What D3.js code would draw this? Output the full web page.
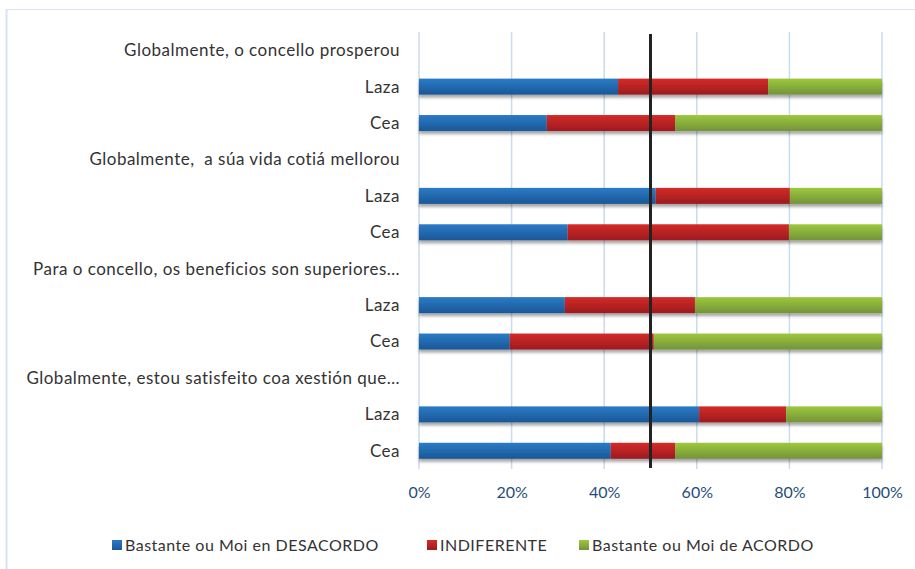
<!DOCTYPE html>
<html lang="gl">
<head>
  <meta charset="UTF-8">
  <title>Valoración por concello</title>
  <style>
    body {
      margin: 0;
      padding: 0;
      background: #ffffff;
      font-family: 'Lato', 'Liberation Sans', sans-serif;
    }
    svg { display: block; }
    .cat { white-space: pre; letter-spacing: 0.5px; }
    .leg { letter-spacing: 0.5px; }
  </style>
</head>
<body>
<svg width="915" height="569"></svg>

<script src="https://d3js.org/d3.v7.min.js"></script>
<script>
  const width = 915, height = 569;

  // data (percent of answers)
  const questions = [
    "Globalmente, o concello prosperou",
    "Globalmente,  a súa vida cotiá mellorou",
    "Para o concello, os beneficios son superiores…",
    "Globalmente, estou satisfeito coa xestión que…"
  ];
  const places = ["Laza", "Cea"];
  const desacordo   = [43.0, 27.6, 51.1, 32.1, 31.5, 19.6, 60.5, 41.4];
  const indiferente = [32.4, 27.7, 29.0, 47.8, 28.1, 31.1, 18.8, 13.9];
  const acordo      = [24.6, 44.7, 19.9, 20.1, 40.4, 49.3, 20.7, 44.7];
  const seriesNames = ["Bastante ou Moi en DESACORDO", "INDIFERENTE", "Bastante ou Moi de ACORDO"];
  const xTicks = [0, 20, 40, 60, 80, 100];
  const refLine = 50;

  // build rows: a header row per question, then one row per place
  const rows = [];
  const bars = [];
  let k = 0;
  questions.forEach((q, qi) => {
    rows.push({ id: "q" + qi, label: q, header: true });
    places.forEach(p => {
      const id = "q" + qi + "-" + p;
      rows.push({ id, label: p, header: false });
      bars.push({ id, d: desacordo[k], i: indiferente[k], a: acordo[k] });
      k++;
    });
  });

  const colors = [
    ["#2b7bc6", "#1a5797"],
    ["#d42b27", "#9b1b1f"],
    ["#9dc83c", "#73933a"]
  ];

  const svg = d3.select("svg");

  const defs = svg.append("defs");
  colors.forEach((c, i) => {
    const g = defs.append("linearGradient")
      .attr("id", "grad" + i)
      .attr("x1", 0).attr("y1", 0).attr("x2", 0).attr("y2", 1);
    g.append("stop").attr("offset", "0%").attr("stop-color", c[0]);
    g.append("stop").attr("offset", "100%").attr("stop-color", c[1]);
  });
  defs.append("filter").attr("id", "shadow")
    .attr("x", "-5%").attr("y", "-50%").attr("width", "110%").attr("height", "250%")
    .append("feDropShadow")
    .attr("dx", 0).attr("dy", 3).attr("stdDeviation", 1.8)
    .attr("flood-color", "#000").attr("flood-opacity", 0.35);

  // outer frame (only top and left visible)
  svg.append("line").attr("x1", 6).attr("x2", width).attr("y1", 9.5).attr("y2", 9.5)
    .attr("stroke", "#dce6f2").attr("stroke-width", 1);
  svg.append("line").attr("x1", 6.5).attr("x2", 6.5).attr("y1", 9).attr("y2", height)
    .attr("stroke", "#d6e3f3").attr("stroke-width", 2);

  const x = d3.scaleLinear().domain([0, 100]).range([419, 882]);
  const y = d3.scaleBand()
    .domain(rows.map(r => r.id))
    .range([32, 469])
    .paddingInner(0.56)
    .paddingOuter(0.28);

  // gridlines
  svg.append("g")
    .selectAll("line")
    .data(xTicks)
    .join("line")
    .attr("x1", d => x(d)).attr("x2", d => x(d))
    .attr("y1", 32).attr("y2", 469)
    .attr("stroke", "#c9dbf0")
    .attr("stroke-width", 1.5);

  // stacked bars
  const stack = d3.stack().keys(["d", "i", "a"]);
  const stacked = stack(bars);

  svg.append("g")
    .attr("filter", "url(#shadow)")
    .selectAll("g")
    .data(stacked)
    .join("g")
    .attr("fill", (s, i) => `url(#grad${i})`)
    .selectAll("rect")
    .data(s => s)
    .join("rect")
    .attr("x", d => x(d[0]))
    .attr("width", d => x(d[1]) - x(d[0]))
    .attr("y", d => y(d.data.id))
    .attr("height", y.bandwidth());

  // category labels
  svg.append("g")
    .selectAll("text")
    .data(rows)
    .join("text")
    .attr("class", "cat")
    .attr("x", 400)
    .attr("y", r => y(r.id) + y.bandwidth() / 2)
    .attr("dy", "0.35em")
    .attr("text-anchor", "end")
    .attr("fill", "#333333")
    .style("font-size", "17px")
    .text(r => r.label);

  // x axis labels
  const xAxis = d3.axisBottom(x)
    .tickValues(xTicks)
    .tickSize(0)
    .tickPadding(0)
    .tickFormat(d => d + "%");
  const ax = svg.append("g")
    .attr("transform", "translate(0,487)")
    .call(xAxis);
  ax.select(".domain").remove();
  ax.selectAll("text")
    .attr("fill", "#1f4e79")
    .style("font-family", "'Lato', 'Liberation Sans', sans-serif")
    .style("font-size", "16px");

  // 50% reference line
  svg.append("line")
    .attr("x1", x(refLine)).attr("x2", x(refLine))
    .attr("y1", 34).attr("y2", 468)
    .attr("stroke", "#222222")
    .attr("stroke-width", 3);

  // legend
  const legendX = [112, 427, 579];
  const legend = svg.append("g")
    .selectAll("g")
    .data(seriesNames)
    .join("g")
    .attr("transform", (d, i) => `translate(${legendX[i]},545)`);
  legend.append("rect")
    .attr("x", 0).attr("y", -5)
    .attr("width", 10).attr("height", 10)
    .attr("fill", (d, i) => `url(#grad${i})`);
  legend.append("text")
    .attr("class", "leg")
    .attr("x", 13)
    .attr("dy", "0.35em")
    .attr("fill", "#333333")
    .style("font-size", "16px")
    .text(d => d);
</script>
</body>
</html>
